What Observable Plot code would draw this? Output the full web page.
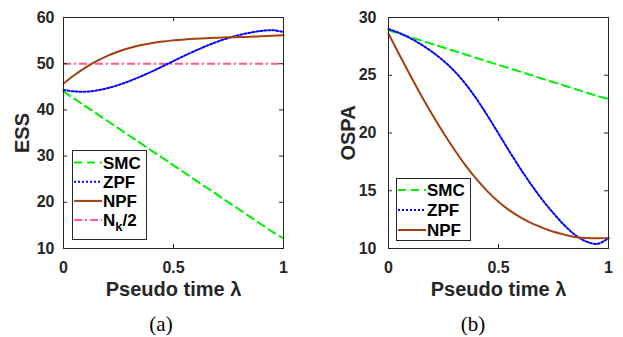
<!DOCTYPE html>
<html><head><meta charset="utf-8">
<script src="https://cdn.jsdelivr.net/npm/d3@7"></script>
<script src="https://cdn.jsdelivr.net/npm/@observablehq/plot@0.6"></script>
<style>
body{margin:0;background:#fff;}
#wrap{position:relative;width:623px;height:337px;overflow:hidden;background:#fff;}
.panel{position:absolute;top:0;width:311px;height:300px;}
.panel svg{font-family:"Liberation Sans",Arimo,Arial,sans-serif;font-weight:bold;color:#262626;}
.panel svg g[aria-label="x-axis label"] text,.panel svg g[aria-label="y-axis label"] text{font-size:20px;}
.cap{position:absolute;top:314px;width:60px;text-align:center;font-family:"Liberation Serif","DejaVu Serif",Tinos,serif;font-size:21px;line-height:21px;color:#000;}
.leg{position:absolute;}
.leg svg{font-family:"Liberation Sans",Arimo,Arial,sans-serif;font-weight:bold;font-size:17px;}
</style></head>
<body><div id="wrap"></div>
<script>
const lam = [0,0.05,0.1,0.15,0.2,0.25,0.3,0.35,0.4,0.45,0.5,0.55,0.6,0.65,0.7,0.75,0.8,0.85,0.9,0.95,1];
const xTicks = [0,0.5,1];

// Panel (a): ESS
const essSMC = [44,42.4,40.8,39.2,37.6,36,34.4,32.8,31.2,29.6,28,26.4,24.8,23.2,21.6,20,18.4,16.8,15.2,13.6,12.2];
const essZPF = [44.3,44.0,43.95,44.2,44.7,45.4,46.25,47.22,48.28,49.41,50.58,51.73,52.83,53.85,54.77,55.57,56.23,56.73,57.1,57.25,56.85];
const essNPF = [45.7,47.55,49.15,50.55,51.7,52.65,53.4,54.0,54.45,54.8,55.05,55.25,55.4,55.52,55.62,55.7,55.77,55.84,55.92,56.03,56.18];
const essHalf = [50];
const essTicks = [10,20,30,40,50,60];

// Panel (b): OSPA
const ospaSMC = [28.9,28.6,28.3,28.0,27.7,27.4,27.1,26.8,26.5,26.2,25.9,25.6,25.3,25.0,24.7,24.4,24.1,23.8,23.5,23.2,22.95];
const ospaZPF = [29.0,28.65,28.2,27.65,27.0,26.25,25.35,24.25,22.95,21.5,19.95,18.4,16.9,15.5,14.2,13.05,12.0,11.15,10.6,10.4,10.9];
const ospaNPF = [28.6,26.75,24.95,23.2,21.55,20.0,18.55,17.2,16.0,14.95,14.05,13.3,12.7,12.2,11.8,11.45,11.2,11.0,10.9,10.88,10.92];
const ospaTicks = [10,15,20,25,30];

const C = {SMC:"#00f000", ZPF:"#0000ff", NPF:"#a3400f", HALF:"#ff5a8c"};
const D = {SMC:"8,5", ZPF:"2,2", NPF:null, HALF:"8,3,2,3"};

const rows = vals => lam.map((x,i)=>({x, y: vals[i]}));

function panel({yDomain, yTicks, yLabel, series, half, mL, mR, tickPad, yLabOff}) {
  const W = 311, H = 300, mT = 17, mB = 52;
  const pw = W - mL - mR, ph = H - mT - mB;
  const ax = "#262626";
  const marks = [
    Plot.axisX({ticks: xTicks, tickSize: 0, tickPadding: 13, fontSize: 16, tickFormat: d => String(d),
      label: "Pseudo time λ", labelAnchor: "center", labelArrow: "none", labelOffset: 47, fill: ax}),
    Plot.axisY({ticks: yTicks, tickSize: 0, tickPadding: tickPad, fontSize: 16, tickFormat: d => String(d),
      label: yLabel, labelAnchor: "center", labelArrow: "none", labelOffset: yLabOff, fill: ax}),
  ];
  if (half) marks.push(Plot.ruleY(half, {y: d => d, stroke: C.HALF, strokeWidth: 2, strokeDasharray: D.HALF}));
  for (const s of series) {
    marks.push(Plot.line(rows(s.vals), {x: "x", y: "y", stroke: C[s.key], strokeWidth: 2,
      strokeDasharray: D[s.key], curve: "catmull-rom"}));
  }
  marks.push(
    Plot.tickX(xTicks, {x: d => d, insetTop: ph - 4, stroke: ax}),
    Plot.tickX(xTicks, {x: d => d, insetBottom: ph - 4, stroke: ax}),
    Plot.tickY(yTicks, {y: d => d, insetRight: pw - 4, stroke: ax}),
    Plot.tickY(yTicks, {y: d => d, insetLeft: pw - 4, stroke: ax}),
    Plot.frame({stroke: ax})
  );
  return Plot.plot({width: W, height: H, marginLeft: mL, marginRight: mR, marginTop: mT, marginBottom: mB,
    x: {domain: [0, 1]}, y: {domain: yDomain}, marks});
}

function legend(items, w, h, step, first) {
  let s = `<svg width="${w}" height="${h}" xmlns="http://www.w3.org/2000/svg">`;
  s += `<rect x="0.5" y="0.5" width="${w-1}" height="${h-1}" fill="#fff" stroke="#262626"/>`;
  items.forEach((it, i) => {
    const y = first + i*step;
    const da = D[it.key] ? `stroke-dasharray="${D[it.key]}"` : "";
    s += `<line x1="2" x2="30" y1="${y}" y2="${y}" stroke="${C[it.key]}" stroke-width="2" ${da}/>`;
    s += `<text x="31" y="${y}" dy="0.36em" fill="#000">${it.label}</text>`;
  });
  return s + "</svg>";
}

const wrap = document.getElementById("wrap");
function addPanel(left, svg) {
  const d = document.createElement("div"); d.className = "panel"; d.style.left = left + "px";
  d.appendChild(svg); wrap.appendChild(d);
}
addPanel(0, panel({yDomain: [10, 60], yTicks: essTicks, yLabel: "ESS", half: essHalf,
  series: [{key: "SMC", vals: essSMC}, {key: "ZPF", vals: essZPF}, {key: "NPF", vals: essNPF}],
  mL: 63, mR: 28, tickPad: 9, yLabOff: 49}));
addPanel(312, panel({yDomain: [10, 30], yTicks: ospaTicks, yLabel: "OSPA",
  series: [{key: "SMC", vals: ospaSMC}, {key: "ZPF", vals: ospaZPF}, {key: "NPF", vals: ospaNPF}],
  mL: 76, mR: 15, tickPad: 12, yLabOff: 48}));

function addLegend(left, top, html) {
  const d = document.createElement("div"); d.className = "leg";
  d.style.left = left + "px"; d.style.top = top + "px"; d.innerHTML = html; wrap.appendChild(d);
}
addLegend(72, 150, legend([
  {key: "SMC", label: "SMC"}, {key: "ZPF", label: "ZPF"}, {key: "NPF", label: "NPF"},
  {key: "HALF", label: 'N<tspan font-size="13" dy="5">k</tspan><tspan dy="-5">/2</tspan>'}
], 75, 90, 19.2, 12.5));
addLegend(396, 178, legend([
  {key: "SMC", label: "SMC"}, {key: "ZPF", label: "ZPF"}, {key: "NPF", label: "NPF"}
], 75, 63, 20, 12));

function addCap(cx, t) {
  const d = document.createElement("div"); d.className = "cap";
  d.style.left = (cx - 30) + "px"; d.textContent = t; wrap.appendChild(d);
}
addCap(161, "(a)");
addCap(473, "(b)");
</script></body></html>
